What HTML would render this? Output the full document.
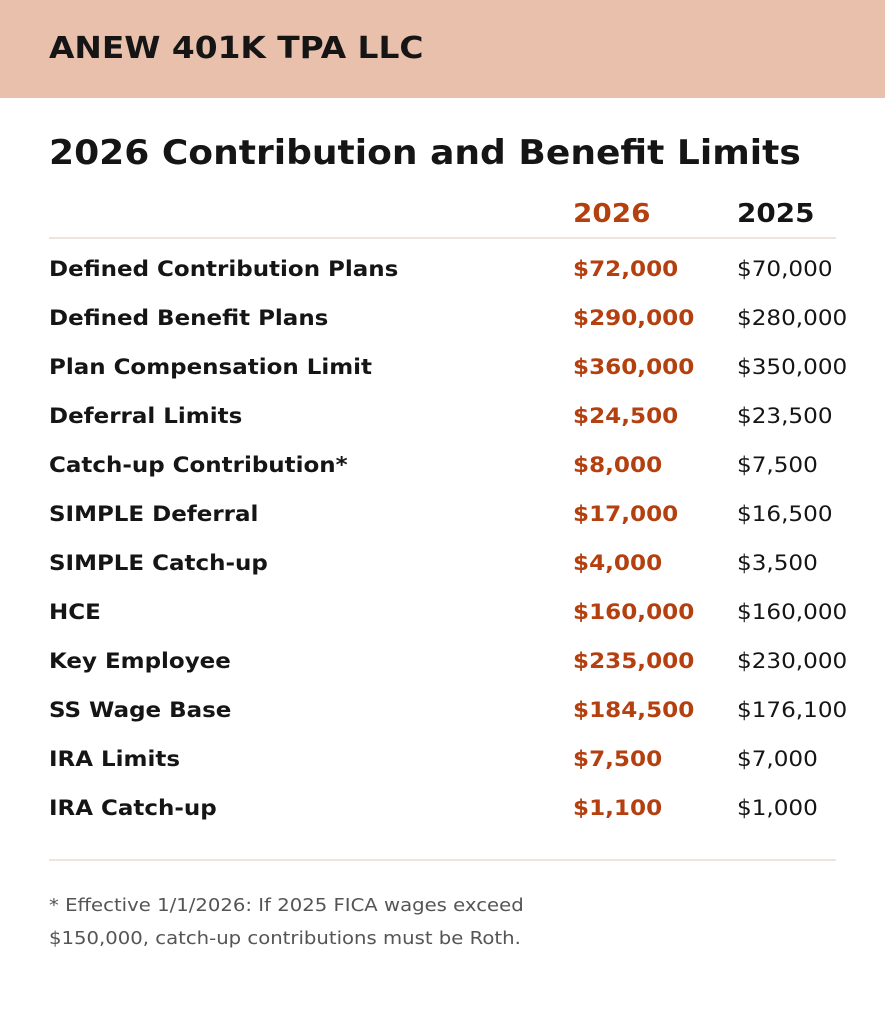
<!DOCTYPE html>
<html><head><meta charset="utf-8"><style>
body{margin:0;width:885px;height:1024px;background:#fff;font-family:"DejaVu Sans","Liberation Sans",sans-serif;position:relative;overflow:hidden}
.hdr{position:absolute;left:0;top:0;width:885px;height:98px;background:#e8c0ab}
.t{position:absolute;white-space:nowrap;line-height:1;transform-origin:0 0}
.b{font-weight:bold;color:#151515}
.o{color:#b5400f;font-weight:bold}
.r{color:#151515}
.line{position:absolute;left:49px;width:787px;height:2px;background:#efe3dc}
</style></head><body>
<div class="hdr"></div>
<div class="t b" style="left:49px;top:34px;font-size:30px;transform:scaleX(1.094)">ANEW 401K TPA LLC</div>
<div class="t b" style="left:49px;top:136px;font-size:34px;transform:scaleX(1.06)">2026 Contribution and Benefit Limits</div>
<div class="t o" style="left:573px;top:201px;font-size:26px;transform:scaleX(1.07)">2026</div>
<div class="t b" style="left:737px;top:201px;font-size:26px;transform:scaleX(1.07)">2025</div>
<div class="line" style="top:237px"></div>
<div id="rows"></div>
<div class="line" style="top:859px"></div>
<div class="t" style="left:49px;top:897px;font-size:18px;color:#555;transform:scaleX(1.092)">* Effective 1/1/2026: If 2025 FICA wages exceed</div>
<div class="t" style="left:49px;top:930px;font-size:18px;color:#555;transform:scaleX(1.092)">$150,000, catch-up contributions must be Roth.</div>
<script>
var d=[["Defined Contribution Plans","$72,000","$70,000"],["Defined Benefit Plans","$290,000","$280,000"],["Plan Compensation Limit","$360,000","$350,000"],["Deferral Limits","$24,500","$23,500"],["Catch-up Contribution*","$8,000","$7,500"],["SIMPLE Deferral","$17,000","$16,500"],["SIMPLE Catch-up","$4,000","$3,500"],["HCE","$160,000","$160,000"],["Key Employee","$235,000","$230,000"],["SS Wage Base","$184,500","$176,100"],["IRA Limits","$7,500","$7,000"],["IRA Catch-up","$1,100","$1,000"]];
var h="";d.forEach(function(r,i){var y=259+i*49;
h+='<div class="t b" style="left:49px;top:'+y+'px;font-size:21px;transform:scaleX(1.094)">'+r[0]+'</div>';
h+='<div class="t o" style="left:573px;top:'+y+'px;font-size:21px;transform:scaleX(1.1)">'+r[1]+'</div>';
h+='<div class="t r" style="left:737px;top:'+y+'px;font-size:21px;transform:scaleX(1.1)">'+r[2]+'</div>';});
document.getElementById("rows").innerHTML=h;
</script>
</body></html>
